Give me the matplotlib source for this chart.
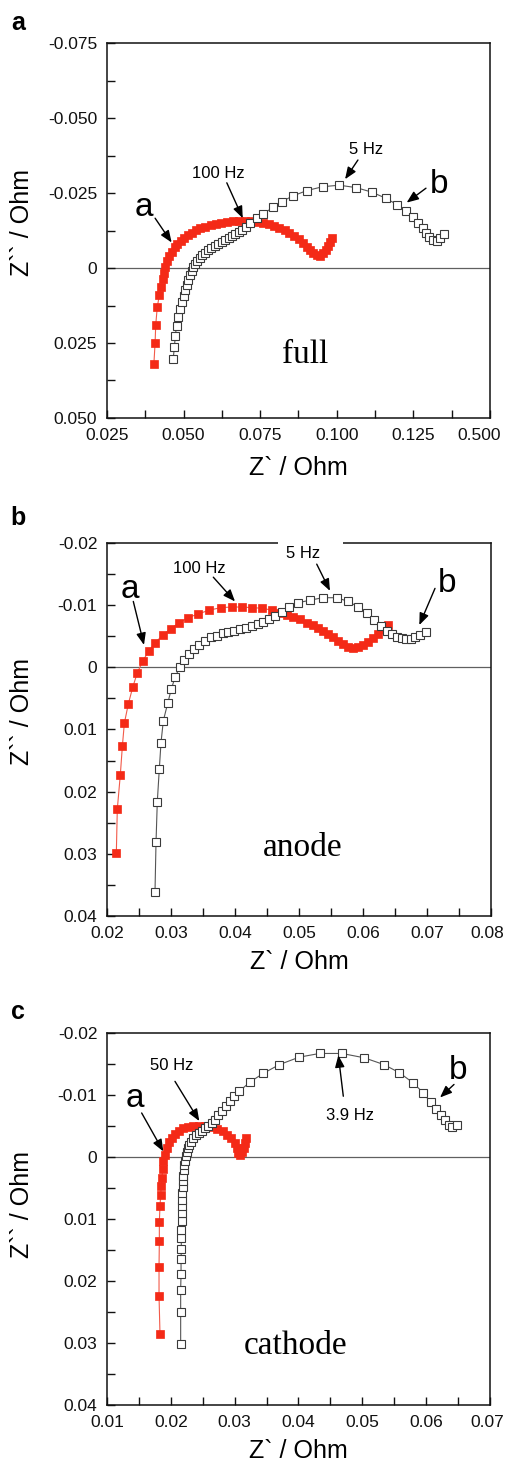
import matplotlib
matplotlib.use("Agg")
import matplotlib.pyplot as plt
from matplotlib.patches import Rectangle
from matplotlib.transforms import ScaledTranslation

SANS = ["Liberation Sans", "DejaVu Sans"]
SERIF = ["Liberation Serif", "DejaVu Serif"]
plt.rcParams["font.family"] = SANS

# ---------------- data (Z' in Ohm, Z'' in Ohm; Z'' axis drawn inverted) ----------------
# (a) full cell
full_a_x = [0.0403, 0.0407, 0.0409, 0.0414, 0.0421, 0.0427, 0.0432, 0.0436, 0.0440, 0.0447,
            0.0453, 0.0462, 0.0471, 0.0479, 0.0490, 0.0501, 0.0513, 0.0526, 0.0540, 0.0555,
            0.0571, 0.0588, 0.0606, 0.0623, 0.0643, 0.0662, 0.0682, 0.0701, 0.0721, 0.0741,
            0.0760, 0.0778, 0.0795, 0.0812, 0.0830, 0.0845, 0.0860, 0.0876, 0.0889, 0.0902,
            0.0913, 0.0923, 0.0934, 0.0945, 0.0956, 0.0965, 0.0972, 0.0979, 0.0983]
full_a_y = [0.0320, 0.0249, 0.0190, 0.0131, 0.0089, 0.0062, 0.0038, 0.0016, -0.0002, -0.0022,
            -0.0039, -0.0054, -0.0069, -0.0080, -0.0091, -0.0101, -0.0110, -0.0118, -0.0126, -0.0132,
            -0.0138, -0.0143, -0.0148, -0.0151, -0.0154, -0.0157, -0.0158, -0.0158, -0.0157, -0.0154,
            -0.0151, -0.0147, -0.0141, -0.0134, -0.0127, -0.0118, -0.0108, -0.0097, -0.0084, -0.0071,
            -0.0059, -0.0049, -0.0042, -0.0041, -0.0049, -0.0060, -0.0073, -0.0088, -0.0101]
full_b_x = [0.0466, 0.0470, 0.0473, 0.0477, 0.0483, 0.0488, 0.0495, 0.0500, 0.0506, 0.0510,
            0.0515, 0.0521, 0.0526, 0.0532, 0.0538, 0.0545, 0.0552, 0.0561, 0.0571, 0.0580,
            0.0590, 0.0601, 0.0612, 0.0624, 0.0636, 0.0647, 0.0658, 0.0669, 0.0680, 0.0691,
            0.0703, 0.0717, 0.0739, 0.0760, 0.0791, 0.0820, 0.0856, 0.0902, 0.0954, 0.1008,
            0.1063, 0.1114, 0.1159, 0.1197, 0.1226, 0.1250, 0.1266, 0.1280, 0.1291, 0.1302,
            0.1313, 0.1326, 0.1337, 0.1350]
full_b_y = [0.0304, 0.0262, 0.0226, 0.0192, 0.0162, 0.0137, 0.0113, 0.0093, 0.0073, 0.0056,
            0.0039, 0.0023, 0.0010, -0.0002, -0.0014, -0.0024, -0.0034, -0.0043, -0.0051, -0.0059,
            -0.0066, -0.0073, -0.0080, -0.0088, -0.0094, -0.0101, -0.0108, -0.0114, -0.0121, -0.0128,
            -0.0137, -0.0149, -0.0166, -0.0180, -0.0202, -0.0221, -0.0240, -0.0258, -0.0271, -0.0276,
            -0.0268, -0.0253, -0.0233, -0.0211, -0.0191, -0.0169, -0.0149, -0.0132, -0.0118, -0.0104,
            -0.0093, -0.0090, -0.0099, -0.0113]

# (b) anode
anode_a_x = [0.02146, 0.02161, 0.02208, 0.02240, 0.02271, 0.02333, 0.02402, 0.02473, 0.02558, 0.02652,
             0.02750, 0.02870, 0.02995, 0.03130, 0.03270, 0.03427, 0.03598, 0.03777, 0.03948, 0.04105,
             0.04270, 0.04427, 0.04573, 0.04703, 0.04808, 0.04911, 0.05016, 0.05120, 0.05223, 0.05302,
             0.05380, 0.05458, 0.05536, 0.05614, 0.05692, 0.05770, 0.05848, 0.05927, 0.06005, 0.06083,
             0.06161, 0.06239, 0.06317, 0.06395]
anode_a_y = [0.0298, 0.0228, 0.0173, 0.0127, 0.0090, 0.0059, 0.0032, 0.0009, -0.0010, -0.0026,
             -0.0039, -0.0052, -0.0062, -0.0072, -0.0080, -0.0086, -0.0092, -0.0096, -0.0097, -0.0097,
             -0.0096, -0.0095, -0.0092, -0.0087, -0.0084, -0.0081, -0.0077, -0.0072, -0.0068, -0.0064,
             -0.0059, -0.0054, -0.0048, -0.0043, -0.0037, -0.0033, -0.0031, -0.0032, -0.0036, -0.0041,
             -0.0047, -0.0054, -0.0061, -0.0068]
anode_b_x = [0.02750, 0.02766, 0.02786, 0.02817, 0.02844, 0.02880, 0.02948, 0.03005, 0.03063, 0.03141,
             0.03208, 0.03286, 0.03364, 0.03442, 0.03531, 0.03625, 0.03714, 0.03808, 0.03895, 0.03989,
             0.04078, 0.04172, 0.04266, 0.04355, 0.04442, 0.04536, 0.04625, 0.04730, 0.04848, 0.04989,
             0.05172, 0.05370, 0.05589, 0.05770, 0.05927, 0.06058, 0.06172, 0.06277, 0.06370, 0.06448,
             0.06527, 0.06605, 0.06672, 0.06745, 0.06813, 0.06891, 0.06984]
anode_b_y = [0.0361, 0.0281, 0.0216, 0.0164, 0.0121, 0.0086, 0.0058, 0.0035, 0.0016, -0.0001,
             -0.0011, -0.0021, -0.0029, -0.0036, -0.0042, -0.0048, -0.0051, -0.0055, -0.0057, -0.0059,
             -0.0061, -0.0064, -0.0066, -0.0069, -0.0073, -0.0078, -0.0083, -0.0089, -0.0097, -0.0104,
             -0.0108, -0.0112, -0.0112, -0.0106, -0.0097, -0.0087, -0.0076, -0.0066, -0.0059, -0.0054,
             -0.0049, -0.0047, -0.0045, -0.0046, -0.0048, -0.0052, -0.0057]

# (c) cathode
cathode_a_x = [0.01830, 0.01815, 0.01815, 0.01820, 0.01820, 0.01830, 0.01841, 0.01850, 0.01861, 0.01871,
               0.01882, 0.01903, 0.01934, 0.01976, 0.02018, 0.02070, 0.02133, 0.02196, 0.02274, 0.02352,
               0.02446, 0.02540, 0.02634, 0.02728, 0.02812, 0.02885, 0.02948, 0.03001, 0.03032, 0.03052,
               0.03080, 0.03110, 0.03140, 0.03165, 0.03175]
cathode_a_y = [0.0285, 0.0224, 0.0177, 0.0136, 0.0105, 0.0079, 0.0062, 0.0047, 0.0034, 0.0020,
               0.0007, -0.0004, -0.0015, -0.0024, -0.0031, -0.0037, -0.0042, -0.0046, -0.0048, -0.0050,
               -0.0050, -0.0050, -0.0048, -0.0045, -0.0042, -0.0036, -0.0030, -0.0023, -0.0015, -0.0007,
               -0.0004, -0.0008, -0.0015, -0.0023, -0.0031]
cathode_b_x = [0.02154, 0.02154, 0.02154, 0.02160, 0.02160, 0.02164, 0.02164, 0.02164, 0.02169, 0.02169,
               0.02174, 0.02174, 0.02179, 0.02185, 0.02190, 0.02195, 0.02201, 0.02211, 0.02221, 0.02232,
               0.02248, 0.02268, 0.02289, 0.02320, 0.02352, 0.02394, 0.02436, 0.02483, 0.02535, 0.02587,
               0.02640, 0.02692, 0.02744, 0.02802, 0.02864, 0.02927, 0.02995, 0.03073, 0.0324, 0.0345,
               0.0370, 0.0401, 0.0433, 0.0468, 0.0503, 0.0534, 0.0558, 0.0579, 0.0595, 0.0607,
               0.0616, 0.0624, 0.0630, 0.0636, 0.0641, 0.0648]
cathode_b_y = [0.0301, 0.0250, 0.0214, 0.0188, 0.0165, 0.0148, 0.0131, 0.0117, 0.0104, 0.0091,
               0.0079, 0.0069, 0.0058, 0.0048, 0.0039, 0.0030, 0.0021, 0.0013, 0.0006, -0.0001,
               -0.0008, -0.0014, -0.0020, -0.0025, -0.0030, -0.0035, -0.0038, -0.0042, -0.0046, -0.0050,
               -0.0055, -0.0060, -0.0067, -0.0074, -0.0082, -0.0090, -0.0098, -0.0106, -0.0121, -0.0135,
               -0.0149, -0.0161, -0.0167, -0.0167, -0.0160, -0.0149, -0.0136, -0.0120, -0.0104, -0.0088,
               -0.0077, -0.0067, -0.0059, -0.0052, -0.0049, -0.0052]

# tick values and labels
full_xticks = [0.025, 0.050, 0.075, 0.100, 0.125, 0.150]
full_xlabels = ["0.025", "0.050", "0.075", "0.100", "0.125", "0.500"]
full_yticks = [-0.075, -0.050, -0.025, 0.0, 0.025, 0.050]
full_ylabels = ["-0.075", "-0.050", "-0.025", "0", "0.025", "0.050"]
anode_xticks = [0.02, 0.03, 0.04, 0.05, 0.06, 0.07, 0.08]
anode_xlabels = ["0.02", "0.03", "0.04", "0.05", "0.06", "0.07", "0.08"]
cathode_xticks = [0.01, 0.02, 0.03, 0.04, 0.05, 0.06, 0.07]
cathode_xlabels = ["0.01", "0.02", "0.03", "0.04", "0.05", "0.06", "0.07"]
half_yticks = [-0.02, -0.01, 0.0, 0.01, 0.02, 0.03, 0.04]
half_ylabels = ["-0.02", "-0.01", "0", "0.01", "0.02", "0.03", "0.04"]

# ---------------- styling ----------------
RED = "#f42a17"
RED_LINE = "#f25a4a"
EDGE = "#3a3a3a"
LINE = "#555555"
W, H = 505, 1462

fig = plt.figure(figsize=(W / 100, H / 100), dpi=100)


def axes_px(left, top, right, bottom):
    return fig.add_axes([left / W, 1 - bottom / H, (right - left) / W, (bottom - top) / H])


def midpoints(v):
    return [(a + b) / 2 for a, b in zip(v[:-1], v[1:])]


def setup(ax, xticks, xlabels, yticks, ylabels, xlab_y, ylab_y, last_shift):
    ax.set_xlim(xticks[0], xticks[-1])
    ax.set_ylim(yticks[-1], yticks[0])
    ax.set_xticks(xticks)
    ax.set_xticklabels(xlabels)
    ax.set_xticks(midpoints(xticks), minor=True)
    ax.set_yticks(yticks)
    ax.set_yticklabels(ylabels)
    ax.set_yticks(midpoints(yticks), minor=True)
    ax.tick_params(which="both", direction="in", length=6, width=1.0,
                   top=False, right=False, labelsize=12.5, pad=7, colors="#111111")
    for s in ax.spines.values():
        s.set_linewidth(1.1)
        s.set_color("#111111")
    ax.axhline(0, color="#606060", lw=0.9, zorder=1)
    ax.set_xlabel("Z` / Ohm", fontsize=18)
    ax.xaxis.label.set_va("center")
    ax.xaxis.set_label_coords(0.5, xlab_y)
    ax.set_ylabel("Z`` / Ohm", fontsize=18)
    ax.yaxis.label.set_va("center")
    ax.yaxis.set_label_coords(-0.222, ylab_y)
    # keep the right-most x tick label inside the figure
    lab = ax.xaxis.get_major_ticks()[-1].label1
    lab.set_transform(lab.get_transform() + ScaledTranslation(last_shift / 100, 0, fig.dpi_scale_trans))


def draw(ax, rx, ry, bx, by, ms_r=6.0, ms_b=5.4):
    ax.plot(rx, ry, color=RED_LINE, lw=0.8, marker="s", ms=ms_r,
            mfc=RED, mec=RED, mew=0.5, zorder=3)
    ax.plot(bx, by, color=LINE, lw=0.8, marker="s", ms=ms_b,
            mfc="white", mec=EDGE, mew=0.8, zorder=4)


def arrow(ax, start, tip):
    ax.annotate("", xy=tip, xytext=start, zorder=6,
                arrowprops=dict(arrowstyle="-|>,head_length=0.55,head_width=0.22",
                                mutation_scale=13, color="black", lw=1.0,
                                shrinkA=0, shrinkB=0))


def freq(ax, x, y, s):
    ax.text(x, y, s, fontsize=12, ha="center", va="baseline", zorder=7)


def curve_label(ax, x, y, s):
    ax.text(x, y, s, fontsize=24, ha="center", va="baseline", zorder=7)


def name(ax, x, y, s):
    ax.text(x, y, s, fontsize=24, family=SERIF, ha="center", va="baseline", zorder=7)


# ---------------- (a) full ----------------
ax1 = axes_px(107, 43, 490, 418)
setup(ax1, full_xticks, full_xlabels, full_yticks, full_ylabels, -0.133, 0.52, -11)
draw(ax1, full_a_x, full_a_y, full_b_x, full_b_y)
curve_label(ax1, 0.0369, -0.0173, "a")
arrow(ax1, (0.0407, -0.0166), (0.0461, -0.0085))
curve_label(ax1, 0.1335, -0.0249, "b")
arrow(ax1, (0.1291, -0.0266), (0.1228, -0.0218))
freq(ax1, 0.0612, -0.0299, "100 Hz")
arrow(ax1, (0.0641, -0.0284), (0.0693, -0.0166))
freq(ax1, 0.1097, -0.0380, "5 Hz")
arrow(ax1, (0.1069, -0.0360), (0.1027, -0.0296))
name(ax1, 0.0896, 0.0318, "full")

# ---------------- (b) anode ----------------
ax2 = axes_px(107, 543, 491, 916)
setup(ax2, anode_xticks, anode_xlabels, half_yticks, half_ylabels, -0.123, 0.548, -4)
draw(ax2, anode_a_x, anode_a_y, anode_b_x, anode_b_y)
curve_label(ax2, 0.02359, -0.0111, "a")
arrow(ax2, (0.02411, -0.0106), (0.02578, -0.0036))
curve_label(ax2, 0.07308, -0.01216, "b")
arrow(ax2, (0.07125, -0.0127), (0.06880, -0.0068))
freq(ax2, 0.03442, -0.01512, "100 Hz")
arrow(ax2, (0.03661, -0.0145), (0.0400, -0.0106))
freq(ax2, 0.05058, -0.01753, "5 Hz")
arrow(ax2, (0.05277, -0.0166), (0.05484, -0.0123))
ax2.add_patch(Rectangle((0.04677, 0.985), 0.01016, 0.03, transform=ax2.get_xaxis_transform(),
                        facecolor="white", edgecolor="none", clip_on=False, zorder=5))
name(ax2, 0.05058, 0.0303, "anode")

# ---------------- (c) cathode ----------------
ax3 = axes_px(107, 1033, 490, 1405)
setup(ax3, cathode_xticks, cathode_xlabels, half_yticks, half_ylabels, -0.124, 0.538, -3)
draw(ax3, cathode_a_x, cathode_a_y, cathode_b_x, cathode_b_y)
curve_label(ax3, 0.01439, -0.0081, "a")
arrow(ax3, (0.01543, -0.0071), (0.01882, -0.0009))
curve_label(ax3, 0.06504, -0.0126, "b")
arrow(ax3, (0.06436, -0.0117), (0.06217, -0.0096))
freq(ax3, 0.02014, -0.0140, "50 Hz")
arrow(ax3, (0.02065, -0.0122), (0.02446, -0.0058))
freq(ax3, 0.04807, -0.00594, "3.9 Hz")
arrow(ax3, (0.04702, -0.0098), (0.04624, -0.0164))
name(ax3, 0.03961, 0.0317, "cathode")

# panel letters
for letter, base in (("a", 29.5), ("b", 525), ("c", 1019)):
    fig.text(18 / W, 1 - base / H, letter, fontsize=18, fontweight="bold",
             ha="center", va="baseline")

fig.savefig("out.png", dpi=100)
